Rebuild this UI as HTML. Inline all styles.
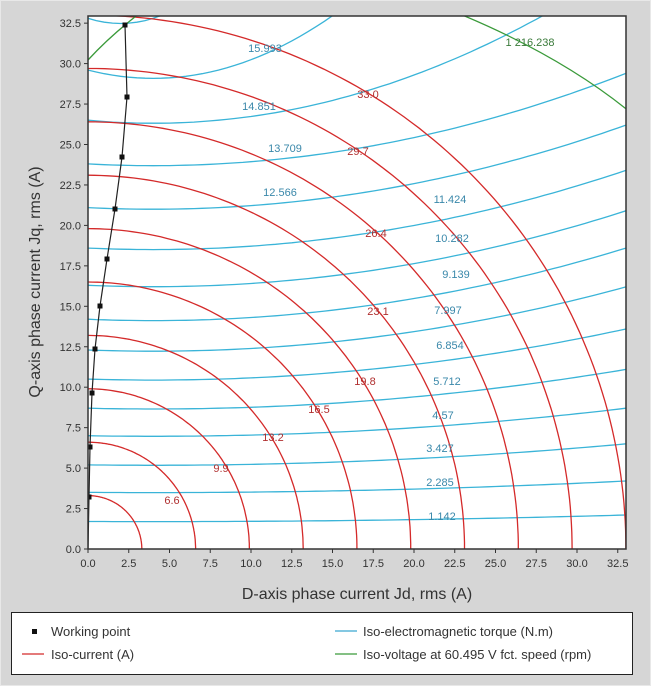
<!DOCTYPE html>
<html><head><meta charset="utf-8"><style>
html,body{margin:0;padding:0;background:#d6d6d6;}
svg{display:block;font-family:"Liberation Sans",sans-serif;}
</style></head><body>
<svg id="s" width="651" height="686" viewBox="0 0 651 686" xmlns="http://www.w3.org/2000/svg">
<rect x="0" y="0" width="651" height="686" fill="#d6d6d6"/>
<rect x="0.5" y="0.5" width="650" height="685" fill="none" stroke="#e8e8e8"/>
<defs><clipPath id="cp"><rect x="88" y="16" width="538" height="533"/></clipPath></defs>
<rect x="88" y="16" width="538" height="533" fill="#fff"/>
<g id="plot" clip-path="url(#cp)"></g>
<g id="lab"></g>
<rect x="88" y="16" width="538" height="533" fill="none" stroke="#333" stroke-width="1.5"/>
<g id="ticks" font-size="11" fill="#333"></g>
<text x="357" y="599" font-size="16" text-anchor="middle" fill="#333">D-axis phase current Jd, rms (A)</text>
<text transform="translate(40,282) rotate(-90)" font-size="16" text-anchor="middle" fill="#333">Q-axis phase current Jq, rms (A)</text>
<rect x="11.5" y="612.5" width="621" height="62" fill="#fff" stroke="#222"/>
<rect x="32" y="629" width="5" height="5" fill="#111"/>
<text x="51" y="636" font-size="13" fill="#333">Working point</text>
<line x1="22" y1="654" x2="44" y2="654" stroke="#d42a2a" stroke-width="1.3"/>
<text x="51" y="659" font-size="13" fill="#333">Iso-current (A)</text>
<line x1="335" y1="631" x2="357" y2="631" stroke="#3aa8d0" stroke-width="1.3"/>
<text x="363" y="636" font-size="13" fill="#333">Iso-electromagnetic torque (N.m)</text>
<line x1="335" y1="654" x2="357" y2="654" stroke="#3a9a3a" stroke-width="1.3"/>
<text x="363" y="659" font-size="13" fill="#333">Iso-voltage at 60.495 V fct. speed (rpm)</text>
</svg>
<script>
var NS="http://www.w3.org/2000/svg";
function X(v){return 88+v*16.3;}function Y(v){return 549-v*16.18;}
function el(p,t,a,txt){var e=document.createElementNS(NS,t);for(var k in a)e.setAttribute(k,a[k]);if(txt!==undefined)e.textContent=txt;document.getElementById(p).appendChild(e);return e;}
// iso-torque
var q0s=[1.7,3.5,5.2,7.0,8.7,10.5,12.3,14.2,16.3,18.6,21.1,23.8,26.5,29.6,32.8];
var iq33=[2.1,4.2,6.5,8.7,11.1,13.6,16.2,18.6,20.9,23.4,26.2,29.4,36.1,0,0];
for(var k=1;k<=15;k++){var q0=q0s[k-1];var b,a;
if(k==14){b=0.032;a=8*b;}else if(k==15){b=0.08;a=4*b;}else{b=(iq33[k-1]-q0)/825;a=8*b;}
var pts=[];
for(var i=0;i<=66;i++){var x=i*0.5;pts.push(X(x).toFixed(1)+","+Y(q0-a*x+b*x*x).toFixed(1));}
el("plot","polyline",{points:pts.join(" "),fill:"none",stroke:"#3ab4d8","stroke-width":1.3});}
// iso-current
for(var j=1;j<=10;j++){var r=3.3*j;var pts=[];for(var a=0;a<=90;a+=1){var t=a*Math.PI/180;pts.push(X(r*Math.cos(t)).toFixed(1)+","+Y(r*Math.sin(t)).toFixed(1));}
el("plot","polyline",{points:pts.join(" "),fill:"none",stroke:"#d42a2a","stroke-width":1.3});}
// green
el("plot","path",{d:"M88,60 Q110,36 140,13",fill:"none",stroke:"#3a9a3a","stroke-width":1.3});
el("plot","path",{d:"M455,12 Q560,55 630,112",fill:"none",stroke:"#3a9a3a","stroke-width":1.3});
// working points
var wpp=[[125,25],[127,97],[122,157],[115,209],[107,259],[100,306],[95,349],[92,393],[90,447],[89,497]];
el("plot","polyline",{points:"88,549 89,497 90,447 92,393 95,349 100,306 107,259 115,209 122,157 127,97 125,25",fill:"none",stroke:"#222","stroke-width":1.2});
wpp.forEach(function(p){el("plot","rect",{x:p[0]-2.5,y:p[1]-2.5,width:5,height:5,fill:"#111"});});
// labels
var tl=[["15.993",265,52],["14.851",259,110],["13.709",285,152],["12.566",280,196],["11.424",450,203],["10.282",452,242],["9.139",456,278],["7.997",448,314],["6.854",450,349],["5.712",447,385],["4.57",443,419],["3.427",440,452],["2.285",440,486],["1.142",442,520]];
tl.forEach(function(l){el("lab","text",{x:l[1],y:l[2],"font-size":11,fill:"#3a88aa","text-anchor":"middle"},l[0]);});
var cl=[["6.6",172,504],["9.9",221,472],["13.2",273,441],["16.5",319,413],["19.8",365,385],["23.1",378,315],["26.4",376,237],["29.7",358,155],["33.0",368,98]];
cl.forEach(function(l){el("lab","text",{x:l[1],y:l[2],"font-size":11,fill:"#b03030","text-anchor":"middle"},l[0]);});
el("lab","text",{x:530,y:46,"font-size":11,fill:"#3a7a3a","text-anchor":"middle"},"1 216.238");
// ticks
for(var i=0;i<=13;i++){var v=i*2.5,s=v.toFixed(1);
el("ticks","line",{x1:X(v),y1:549,x2:X(v),y2:553,stroke:"#333"});
el("ticks","text",{x:X(v),y:567,"text-anchor":"middle"},s);
el("ticks","line",{x1:84,y1:Y(v),x2:88,y2:Y(v),stroke:"#333"});
el("ticks","text",{x:81,y:Y(v)+4,"text-anchor":"end"},s);}
</script>
</body></html>
